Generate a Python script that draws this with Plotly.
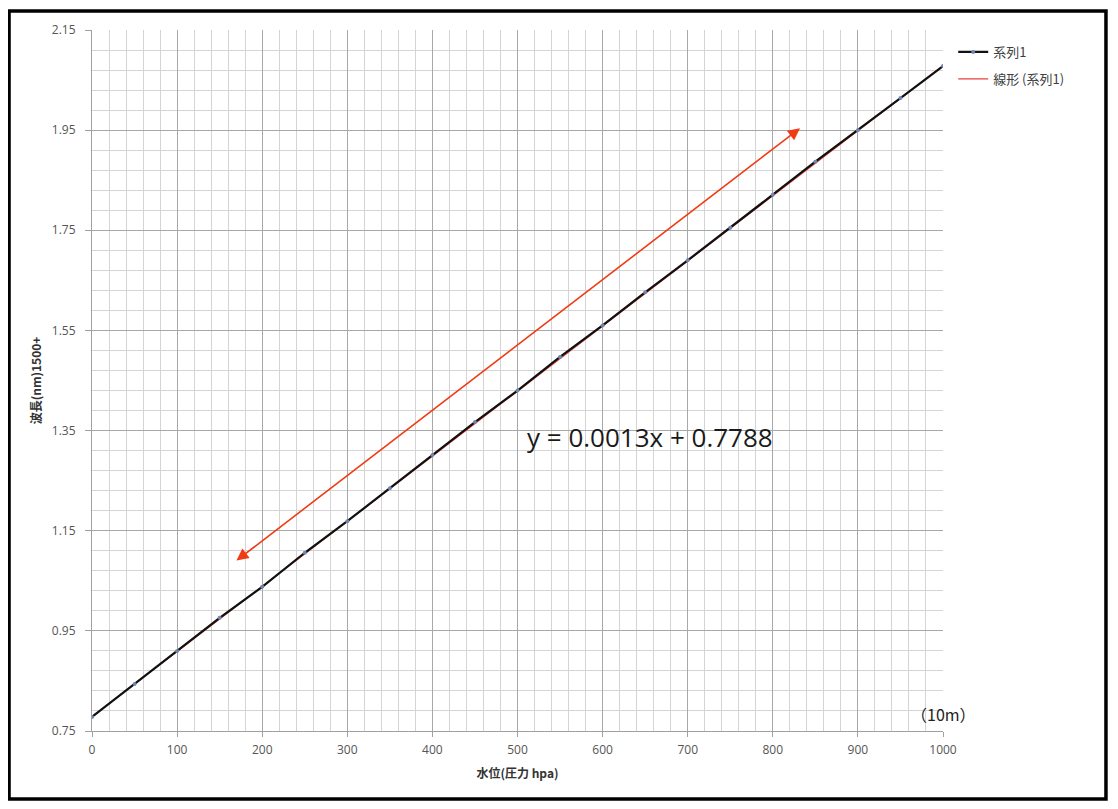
import plotly.graph_objects as go

# Data
pressure_hpa = [0, 50, 100, 150, 200, 250, 300, 350, 400, 450, 500,
                550, 600, 650, 700, 750, 800, 850, 900, 950, 1000]
wavelength = [0.778, 0.844, 0.910, 0.976, 1.038, 1.106, 1.169, 1.235, 1.301, 1.367, 1.430,
              1.497, 1.560, 1.626, 1.690, 1.755, 1.821, 1.887, 1.950, 2.014, 2.078]
trend_slope = 0.0013
trend_intercept = 0.7788
trend_x = [0, 1000]
trend_y = [trend_slope * v + trend_intercept for v in trend_x]
arrow_from = (168, 1.088)
arrow_to = (832, 1.954)

fig = go.Figure()
fig.add_trace(go.Scatter(x=trend_x, y=trend_y, mode="lines", name="線形 (系列1)",
                         legendgroup="b", legendrank=2,
                         line=dict(color="#E8413A", width=1.2)))
fig.add_trace(go.Scatter(x=pressure_hpa, y=wavelength, mode="lines+markers", name="系列1",
                         legendgroup="a", legendrank=1,
                         line=dict(color="#111111", width=2.2),
                         marker=dict(color="#6f86b5", size=4)))

font_jp = "Noto Sans CJK JP"
fig.update_layout(
    width=1102, height=793,
    margin=dict(l=84, r=167, t=22, b=70),
    paper_bgcolor="white", plot_bgcolor="white",
    font=dict(family="Open Sans", size=12, color="#555555"),
    legend=dict(x=1.012, y=0.99, xanchor="left", yanchor="top",
                traceorder="grouped", tracegroupgap=7, bgcolor="rgba(0,0,0,0)",
                font=dict(family=font_jp, size=13, color="#404040")),
    xaxis=dict(range=[0, 1000], tickmode="linear", tick0=0, dtick=100, showgrid=True,
               gridcolor="#a8a8a8", gridwidth=1,
               minor=dict(tickmode="linear", dtick=20, tick0=0, showgrid=True,
                          gridcolor="#d4d4d4", gridwidth=1),
               ticks="outside", ticklen=5, tickcolor="#a0a0a0", ticklabelstandoff=3,
               showline=True, linecolor="#a0a0a0", zeroline=False,
               title=dict(text="<b>水位(圧力 hpa)</b>", font=dict(family=font_jp, size=12, color="#333333"),
                          standoff=12)),
    yaxis=dict(range=[0.75, 2.15], tickmode="linear", tick0=0.75, dtick=0.2, tickformat=".2f",
               showgrid=True, gridcolor="#a8a8a8", gridwidth=1,
               minor=dict(tickmode="linear", dtick=0.04, tick0=0.75, showgrid=True,
                          gridcolor="#d4d4d4", gridwidth=1),
               ticks="outside", ticklen=6, tickcolor="#a0a0a0", ticklabelstandoff=7,
               showline=True, linecolor="#a0a0a0", zeroline=False,
               title=dict(text="<b>波長(nm)1500+</b>", font=dict(family=font_jp, size=12, color="#333333"),
                          standoff=7)),
)

fig.add_annotation(x=arrow_to[0], y=arrow_to[1], ax=arrow_from[0], ay=arrow_from[1],
                   xref="x", yref="y", axref="x", ayref="y", text="",
                   showarrow=True, arrowhead=2, startarrowhead=2, arrowside="end+start",
                   arrowsize=1.5, startarrowsize=1.5, arrowwidth=1.6, arrowcolor="#F03C14")
fig.add_annotation(x=656, y=1.337, xref="x", yref="y", showarrow=False,
                   text="y = 0.0013x + 0.7788",
                   font=dict(family="Open Sans", size=26, color="#1a1a1a"))
fig.add_annotation(x=1.001, y=0.004, xref="paper", yref="paper", showarrow=False,
                   xanchor="center", yanchor="bottom",
                   text="（10m）", font=dict(family=font_jp, size=16, color="#222222"))

# outer frame
fig.add_shape(type="rect", xref="paper", yref="paper",
              x0=-0.0975, x1=1.1915, y0=-0.097, y1=1.027,
              line=dict(color="black", width=3.5))

fig.write_html("out.html")
